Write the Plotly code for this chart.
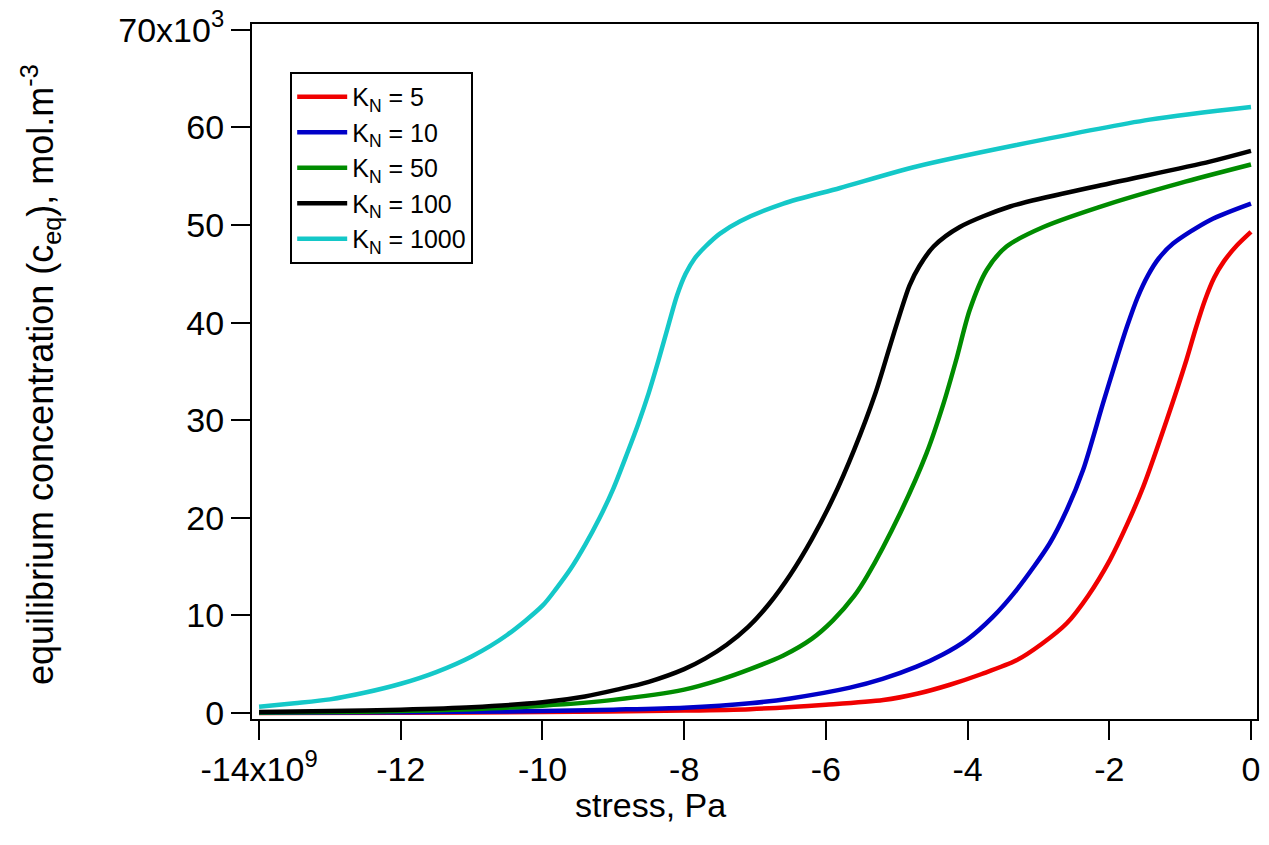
import numpy as np
import plotly.graph_objects as go

# Stress in units of 1e9 Pa, equilibrium concentration in units of 1e3 mol/m^3
X_SCALE = 1e9
Y_SCALE = 1e3

kn5_x = [-14.0, -12.0, -10.0, -8.0, -7.07, -6.0, -5.19, -4.7, -4.25, -3.8, -3.31, -2.95, -2.6, -2.3, -1.99,
         -1.75, -1.52, -1.19, -0.91, -0.78, -0.65, -0.52, -0.38, -0.2, 0.0]
kn5_y = [0.01, 0.04, 0.1, 0.25, 0.4, 0.85, 1.33, 2.0, 2.9, 4.0, 5.4, 7.1, 9.2, 12.0, 15.7,
         19.3, 23.2, 30.0, 36.2, 39.4, 42.3, 44.6, 46.3, 47.9, 49.3]

kn10_x = [-14.0, -12.0, -10.0, -9.0, -8.0, -7.07, -6.5, -5.66, -5.2, -4.72, -4.35, -4.01, -3.65, -3.31, -2.84,
          -2.6, -2.37, -2.09, -1.9, -1.75, -1.6, -1.45, -1.3, -1.1, -0.58, 0.0]
kn10_y = [0.02, 0.08, 0.2, 0.35, 0.55, 1.0, 1.5, 2.6, 3.5, 4.75, 6.0, 7.5, 9.8, 12.6, 17.4,
          20.8, 24.9, 31.7, 36.2, 39.6, 42.6, 44.9, 46.6, 48.1, 50.5, 52.2]

kn50_x = [-14.0, -13.0, -12.0, -11.0, -10.0, -9.0, -8.0, -7.5, -7.07, -6.6, -6.2, -5.9, -5.6, -5.42, -4.95,
          -4.58, -4.34, -4.16, -3.97, -3.73, -3.45, -2.93, -1.99, -1.0, 0.0]
kn50_y = [0.05, 0.1, 0.2, 0.4, 0.75, 1.35, 2.4, 3.4, 4.5, 5.9, 7.6, 9.5, 12.0, 14.0, 20.5,
          26.6, 31.7, 36.2, 41.3, 45.4, 47.8, 49.8, 52.2, 54.3, 56.2]

kn100_x = [-14.0, -13.0, -12.0, -11.0, -10.0, -9.4, -8.95, -8.5, -8.0, -7.7, -7.4, -7.1, -6.8, -6.5, -6.2,
           -5.9, -5.6, -5.3, -5.1, -4.95, -4.82, -4.68, -4.48, -4.11, -3.4, -2.23, -0.58, 0.0]
kn100_y = [0.12, 0.2, 0.35, 0.6, 1.1, 1.7, 2.4, 3.2, 4.5, 5.6, 7.0, 8.8, 11.2, 14.2, 17.8,
           22.0, 27.0, 32.8, 37.5, 41.0, 43.8, 45.8, 47.8, 49.8, 51.9, 53.9, 56.5, 57.6]

kn1000_x = [-14.0, -13.5, -13.0, -12.5, -12.0, -11.5, -11.0, -10.5, -10.0, -9.8, -9.6, -9.4, -9.2, -9.0,
            -8.8, -8.65, -8.5, -8.36, -8.22, -8.1, -7.98, -7.85, -7.7, -7.5, -7.21, -6.6, -5.8, -4.72,
            -3.31, -1.43, 0.0]
kn1000_y = [0.65, 1.0, 1.4, 2.1, 3.0, 4.2, 5.8, 8.0, 11.0, 12.8, 14.8, 17.2, 19.9, 23.0,
            26.7, 29.6, 32.8, 36.2, 39.8, 42.8, 45.0, 46.6, 47.8, 49.1, 50.4, 52.2, 53.8, 56.0,
            58.2, 60.8, 62.1]

series_names = ["K<sub>N</sub> = 5", "K<sub>N</sub> = 10", "K<sub>N</sub> = 50",
                "K<sub>N</sub> = 100", "K<sub>N</sub> = 1000"]
series_x = [kn5_x, kn10_x, kn50_x, kn100_x, kn1000_x]
series_y = [kn5_y, kn10_y, kn50_y, kn100_y, kn1000_y]
series_colors = ["#f00000", "#0000c8", "#008c00", "#000000", "#14c8c8"]

x_tick_vals = [-14, -12, -10, -8, -6, -4, -2, 0]
x_tick_text = ["-14x10<sup>9</sup>", "-12", "-10", "-8", "-6", "-4", "-2", "0"]
y_tick_vals = [0, 10, 20, 30, 40, 50, 60, 70]
y_tick_text = ["0", "10", "20", "30", "40", "50", "60", "70x10<sup>3</sup>"]

FONT = "Liberation Sans, Arial, sans-serif"
TICK_SIZE = 34

fig = go.Figure()
for name, xs, ys, col in zip(series_names, series_x, series_y, series_colors):
    fig.add_trace(go.Scatter(
        x=np.array(xs) * X_SCALE,
        y=np.array(ys) * Y_SCALE,
        mode="lines",
        name=name,
        line=dict(color=col, width=4.5, shape="spline", smoothing=0.8),
    ))

axis_common = dict(
    ticks="outside", ticklen=19, tickwidth=2, tickcolor="black",
    showline=True, linecolor="black", linewidth=2, mirror=True,
    showgrid=False, zeroline=False, automargin=False,
    tickfont=dict(family=FONT, size=TICK_SIZE, color="black"),
)

fig.update_layout(
    width=1269,
    height=845,
    margin=dict(l=252, r=12, t=24, b=126),
    paper_bgcolor="white",
    plot_bgcolor="white",
    font=dict(family=FONT, color="black", size=TICK_SIZE),
    showlegend=True,
    legend=dict(
        x=0.038, y=0.931, xanchor="left", yanchor="top",
        bordercolor="black", borderwidth=2, bgcolor="white",
        font=dict(family=FONT, size=25, color="black"),
        tracegroupgap=0, itemwidth=50,
    ),
    xaxis=dict(
        range=[-14.1 * X_SCALE, 0.085 * X_SCALE],
        tickvals=[v * X_SCALE for v in x_tick_vals],
        ticktext=x_tick_text,
        **axis_common,
    ),
    yaxis=dict(
        range=[-0.61 * Y_SCALE, 70.6 * Y_SCALE],
        tickvals=[v * Y_SCALE for v in y_tick_vals],
        ticktext=y_tick_text,
        **axis_common,
    ),
)

fig.add_annotation(
    text="stress, Pa", xref="paper", yref="paper",
    x=(650 - 252) / 1005, y=(719 - 805) / 695, xanchor="center", yanchor="middle",
    showarrow=False, font=dict(family=FONT, size=TICK_SIZE, color="black"),
)
fig.add_annotation(
    text="equilibrium concentration (c<sub>eq</sub>), mol.m<sup>-3</sup>",
    xref="paper", yref="paper",
    x=(40 - 252) / 1005, y=(719 - 375) / 695, xanchor="center", yanchor="middle",
    textangle=-90, showarrow=False, font=dict(family=FONT, size=36, color="black"),
)

fig.write_html("out.html")
